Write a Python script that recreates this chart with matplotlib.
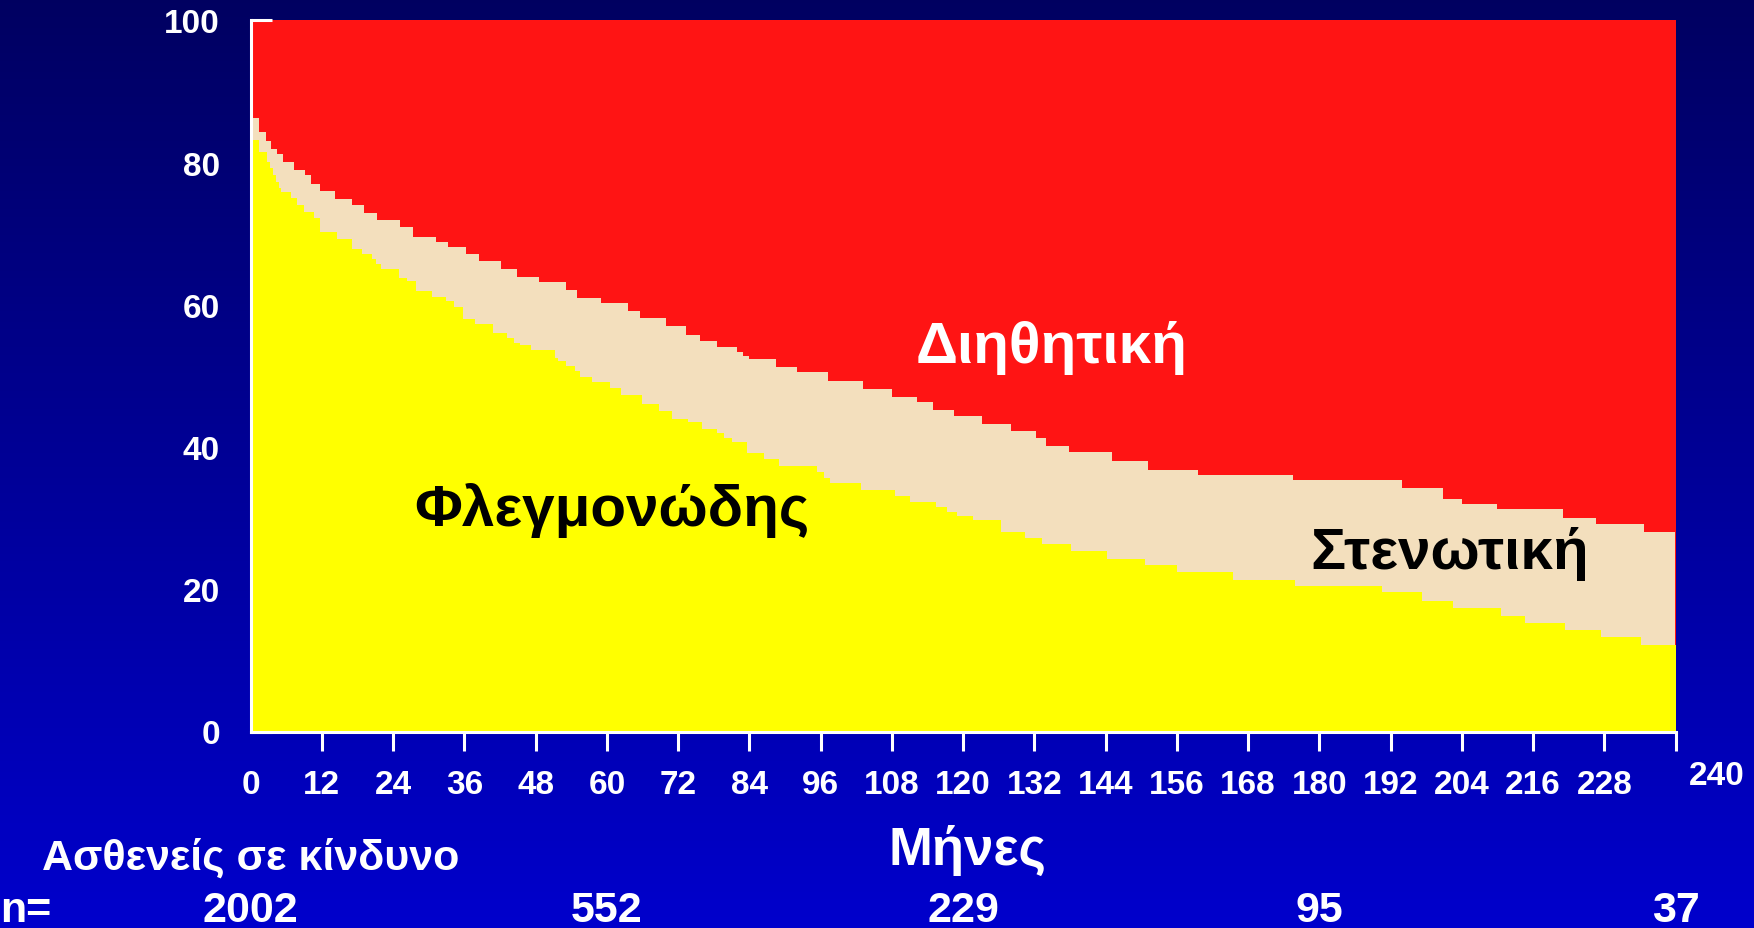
import numpy as np
import matplotlib
matplotlib.use("Agg")
import matplotlib.pyplot as plt
import matplotlib.transforms as mtransforms

plt.rcParams['font.family'] = ['Liberation Sans', 'DejaVu Sans']
plt.rcParams['font.weight'] = 'bold'

# ---- data ----
# cumulative (Φλεγμονώδης + Στενωτική) step curve
top_months = [0, 1.47, 2.59, 3.49, 4.39, 5.51, 7.36, 9.1, 10.17, 11.74,
              14.21, 17.02, 19.04, 21.34, 25.1, 27.4, 31.3, 33.2, 36.2, 38.4,
              42.1, 44.9, 48.5, 53.2, 55.0, 59.0, 63.5, 65.6, 69.9, 73.3,
              75.7, 78.5, 81.9, 83.0, 84.0, 88.5, 92.0, 97.2, 103.2, 108.1,
              112.3, 115.0, 118.5, 123.2, 128.0, 132.2, 134.0, 137.9, 145.1, 151.1,
              159.6, 175.6, 193.9, 200.8, 204.0, 209.9, 221.1, 226.5, 234.6, 239.8,
              240]
top_pct = [86.2, 84.3, 83.0, 81.9, 81.2, 80.1, 79.0, 78.2, 77.0, 76.0,
           74.9, 74.0, 72.9, 71.9, 71.0, 69.6, 68.8, 68.1, 67.2, 66.1,
           65.0, 63.9, 63.2, 62.1, 61.0, 60.2, 59.1, 58.1, 57.0, 55.7,
           54.9, 54.1, 53.3, 52.8, 52.4, 51.2, 50.5, 49.3, 48.1, 47.0,
           46.4, 45.2, 44.4, 43.3, 42.3, 41.3, 40.1, 39.3, 38.0, 36.7,
           36.0, 35.4, 34.2, 32.7, 32.0, 31.3, 30.0, 29.2, 28.0, 12.2,
           12.2]

# Φλεγμονώδης step curve
bottom_months = [0, 1.47, 2.7, 3.2, 3.7, 4.2, 4.7, 5.07, 6.8, 7.87,
                 9.0, 10.68, 11.69, 14.55, 17.0, 18.7, 20.5, 21.2, 21.9, 25.0,
                 26.3, 27.8, 30.6, 32.9, 34.3, 35.7, 37.8, 40.9, 43.2, 44.3,
                 45.4, 47.3, 51.2, 51.7, 53.2, 54.7, 55.5, 57.5, 60.6, 62.3,
                 65.9, 68.8, 70.9, 73.7, 76.1, 78.5, 79.8, 81.1, 83.6, 86.4,
                 89.0, 95.4, 96.5, 97.6, 102.8, 108.6, 111.0, 115.5, 117.2, 118.9,
                 121.7, 126.4, 130.4, 133.2, 138.2, 144.2, 150.6, 156.0, 165.5, 175.9,
                 190.5, 197.2, 202.5, 210.5, 214.6, 221.4, 227.5, 234.1, 240]
bottom_pct = [83.2, 81.5, 80.1, 79.2, 78.2, 77.2, 76.4, 75.8, 75.0, 74.0,
              73.0, 72.2, 70.3, 69.2, 67.9, 67.1, 66.4, 65.7, 65.0, 63.7,
              63.3, 62.0, 61.1, 60.5, 59.7, 58.0, 57.3, 56.1, 55.3, 54.6,
              54.3, 53.6, 52.5, 52.1, 51.4, 50.7, 49.9, 49.1, 48.3, 47.3,
              46.0, 45.1, 44.0, 43.5, 42.6, 42.0, 41.3, 40.7, 39.2, 38.3,
              37.3, 36.5, 35.7, 35.0, 33.9, 33.1, 32.2, 31.6, 30.9, 30.3,
              29.7, 28.1, 27.2, 26.4, 25.4, 24.3, 23.4, 22.4, 21.3, 20.4,
              19.6, 18.4, 17.4, 16.3, 15.3, 14.3, 13.3, 12.2, 12.2]

x_ticks = list(range(0, 241, 12))
y_ticks = [0, 20, 40, 60, 80, 100]

risk_months = [0, 60, 120, 180, 240]
risk_n = [2002, 552, 229, 95, 37]

# ---- figure ----
W, H = 1754, 929
fig = plt.figure(figsize=(W / 100, H / 100), dpi=100)

# gradient background
bg = fig.add_axes([0, 0, 1, 1], zorder=-10)
grad = np.linspace(0, 1, 256).reshape(-1, 1)
top_c = np.array([0.0, 0.0, 0.38])
bot_c = np.array([0.0, 0.0, 0.80])
img = top_c[None, None, :] * (1 - grad[:, :, None]) + bot_c[None, None, :] * grad[:, :, None]
bg.imshow(img, aspect='auto', extent=[0, 1, 0, 1], origin='upper')
bg.axis('off')

x0, x1 = 250.6, 1675.7
y0, y1 = 732.5, 21.3
ax = fig.add_axes([x0 / W, 1 - y0 / H, (x1 - x0) / W, (y0 - y1) / H])
ax.set_facecolor('none')
ax.set_xlim(0, 240)
ax.set_ylim(0, 100)

RED = '#FF1414'
BEIGE = '#F3DFBD'
YELLOW = '#FFFF00'

ax.fill_between([0, 240], 0, 100, color=RED, lw=0, zorder=1)
ax.fill_between(top_months, 0, top_pct, step='post', color=BEIGE, lw=0, zorder=2)
ax.fill_between(bottom_months, 0, bottom_pct, step='post', color=YELLOW, lw=0, zorder=3)

for s in ['top', 'right']:
    ax.spines[s].set_visible(False)
for s in ['left', 'bottom']:
    ax.spines[s].set_color('white')
    ax.spines[s].set_linewidth(2.2)
    ax.spines[s].set_zorder(5)

ax.set_xticks(x_ticks)
ax.set_xticklabels([str(t) if t != 240 else '' for t in x_ticks])
ax.set_yticks(y_ticks)
ax.set_yticklabels([str(t) for t in y_ticks])
ax.tick_params(axis='x', direction='out', length=14, width=2.2, color='white',
               labelcolor='white', labelsize=24, pad=13)
ax.tick_params(axis='y', direction='in', length=15, width=2.2, color='white',
               labelcolor='white', labelsize=24, pad=22)
ax.xaxis.get_major_ticks()[0].tick1line.set_visible(False)
for lab in ax.get_xticklabels() + ax.get_yticklabels():
    lab.set_fontweight('bold')

# extra 240 label
ax.text(246.9, -6.2, '240', color='white', fontsize=24, fontweight='bold',
        ha='center', va='center', clip_on=False)

# region labels
ax.text(134.9, 51.9, 'Διηθητική', color='white', fontsize=42, fontweight='bold',
        ha='center', va='baseline', zorder=6)
ax.text(60.9, 29.1, 'Φλεγμονώδης', color='black', fontsize=42, fontweight='bold',
        ha='center', va='baseline', zorder=6)
ax.text(201.9, 23.0, 'Στενωτική', color='black', fontsize=42, fontweight='bold',
        ha='center', va='baseline', zorder=6)

# axis title
fig.text(967.6 / W, 1 - 864.7 / H, 'Μήνες', color='white', fontsize=38,
         fontweight='bold', ha='center', va='baseline')

# patients at risk
fig.text(42 / W, 1 - 870 / H, 'Ασθενείς σε κίνδυνο', color='white', fontsize=31,
         fontweight='bold', ha='left', va='baseline')
fig.text(0 / W, 1 - 922 / H, 'n=', color='white', fontsize=31,
         fontweight='bold', ha='left', va='baseline')
trans = mtransforms.blended_transform_factory(ax.transData, fig.transFigure)
for m, n in zip(risk_months, risk_n):
    ax.text(m, 1 - 922 / H, str(n), transform=trans, color='white', fontsize=31,
            fontweight='bold', ha='center', va='baseline', clip_on=False)

fig.savefig('out.png', dpi=100, facecolor=fig.get_facecolor())
